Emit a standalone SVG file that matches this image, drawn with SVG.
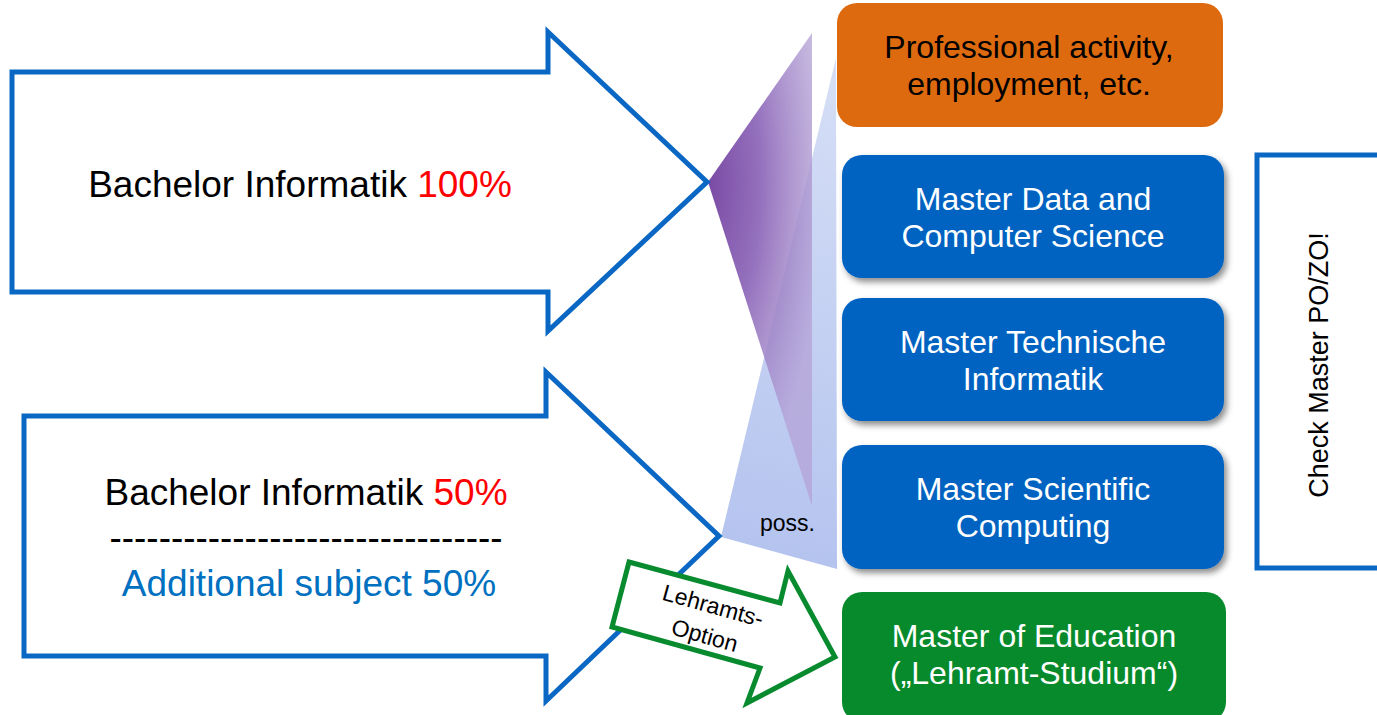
<svg xmlns="http://www.w3.org/2000/svg" width="1377" height="715" viewBox="0 0 1377 715">
<defs>
<style>
text{font-family:"Liberation Sans",Arial,sans-serif;}
.big{font-size:37px;fill:#000;}
.red{fill:#FF0000;}
.bt{font-size:32px;fill:#fff;text-anchor:middle;}
.bigarrow{fill:#fff;stroke:#0A67C4;stroke-width:5;stroke-linejoin:miter;}
.mbox{fill:#0563C1;}
</style>
<radialGradient id="gPurple" gradientUnits="userSpaceOnUse" cx="0" cy="0" r="1" fx="0" fy="0" gradientTransform="translate(708,182) scale(115,330)">
<stop offset="0" stop-color="#7A4AA4" stop-opacity="1"/>
<stop offset="0.45" stop-color="#8E68B9" stop-opacity="0.95"/>
<stop offset="1" stop-color="#B4A2D6" stop-opacity="0.75"/>
</radialGradient>
<linearGradient id="gBlue" gradientUnits="userSpaceOnUse" x1="720" y1="537" x2="837" y2="58">
<stop offset="0" stop-color="#B5C4EF"/>
<stop offset="1" stop-color="#D6DFF6"/>
</linearGradient>
<filter id="shadow" x="-10%" y="-10%" width="125%" height="130%">
<feDropShadow dx="3" dy="4" stdDeviation="3" flood-color="#000" flood-opacity="0.45"/>
</filter>
</defs>
<rect width="1377" height="715" fill="#fff"/>

<g id="connectors">
<polygon points="836,58 837,569 721,537" fill="url(#gBlue)"/>
<polygon points="708,182 812,33 812,506" fill="url(#gPurple)"/>
<text x="760" y="531" style="font-size:23px;fill:#000">poss.</text>
</g>

<g id="bachelor100">
<polygon class="bigarrow" points="12,72 548,72 548,32 707,182 548,331 548,292 12,292"/>
<text class="big" x="300" y="197" text-anchor="middle">Bachelor Informatik <tspan class="red">100%</tspan></text>
</g>

<g id="bachelor50">
<polygon class="bigarrow" points="24,416 546,416 546,372 719,536 546,701 546,656 24,656"/>
<text class="big" x="306" y="505" text-anchor="middle">Bachelor Informatik <tspan class="red">50%</tspan></text>
<text class="big" x="306" y="550" text-anchor="middle" textLength="393" lengthAdjust="spacingAndGlyphs">--------------------------------</text>
<text class="big" x="309" y="596" text-anchor="middle" style="fill:#0070C0">Additional subject 50%</text>
</g>

<g id="lehramtsoption">
<polygon points="629,562 780,603 788,571 835,657 747,703 760,668 612,627" fill="#fff" stroke="#088A2E" stroke-width="5" stroke-linejoin="miter"/>
<g transform="translate(709,620) rotate(15.5)">
<text x="0" y="-7" text-anchor="middle" style="font-size:23px;fill:#000">Lehramts-</text>
<text x="0" y="24" text-anchor="middle" style="font-size:23px;fill:#000">Option</text>
</g>
</g>

<g id="professional">
<rect x="837" y="3" width="386" height="124" rx="20" fill="#DE6A10"/>
<text class="bt" x="1029" y="58" style="fill:#000">Professional activity,</text>
<text class="bt" x="1029" y="95" style="fill:#000">employment, etc.</text>
</g>

<g id="masterdcs">
<rect class="mbox" x="842" y="155" width="382" height="123" rx="20" filter="url(#shadow)"/>
<text class="bt" x="1033" y="210">Master Data and</text>
<text class="bt" x="1033" y="247">Computer Science</text>
</g>

<g id="mastertech">
<rect class="mbox" x="842" y="298" width="382" height="123" rx="20" filter="url(#shadow)"/>
<text class="bt" x="1033" y="353">Master Technische</text>
<text class="bt" x="1033" y="390">Informatik</text>
</g>

<g id="mastersc">
<rect class="mbox" x="842" y="445" width="382" height="124" rx="20" filter="url(#shadow)"/>
<text class="bt" x="1033" y="500">Master Scientific</text>
<text class="bt" x="1033" y="537">Computing</text>
</g>

<g id="mastered">
<rect x="842" y="592" width="384" height="130" rx="20" fill="#078A2C"/>
<text class="bt" x="1034" y="647">Master of Education</text>
<text class="bt" x="1034" y="684">(„Lehramt-Studium“)</text>
</g>

<g id="checkpozo">
<polyline points="1380,155 1257,155 1257,568 1380,568" fill="none" stroke="#0A67C4" stroke-width="5"/>
<text transform="translate(1328,365) rotate(-90)" text-anchor="middle" style="font-size:27px;fill:#000">Check Master PO/ZO!</text>
</g>
</svg>
